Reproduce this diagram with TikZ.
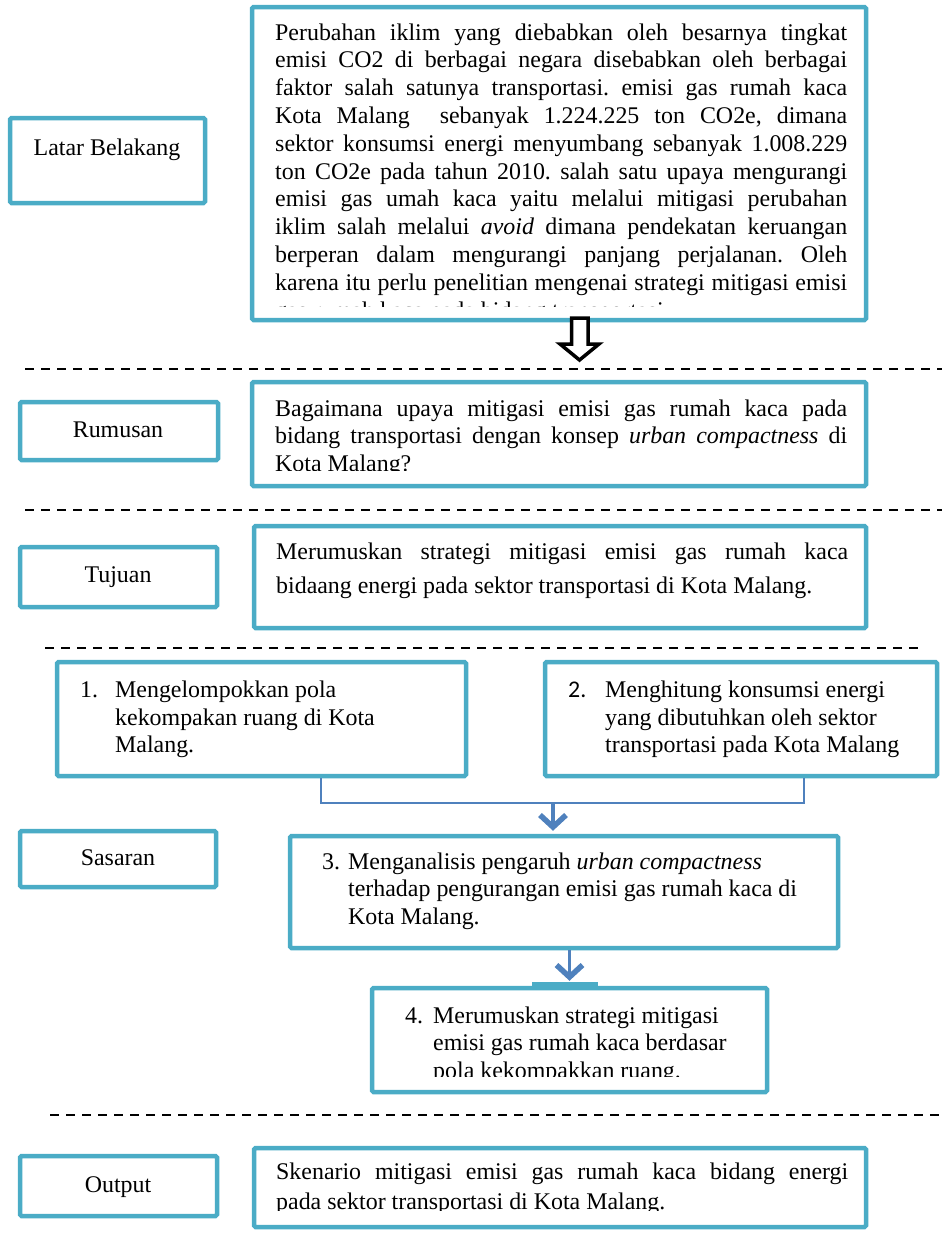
\documentclass[tikz,border=0pt]{standalone}
\usepackage{fontspec}
\setmainfont{Liberation Serif}
\newfontfamily\numfont{Carlito}
\usetikzlibrary{arrows.meta,fit}
\definecolor{boxblue}{HTML}{4BACC6}
\definecolor{linkblue}{HTML}{4F81BD}
\newcommand\jl[1]{\makebox[572bp][s]{\frenchspacing\spaceskip=0pt\xspaceskip=0pt\strut #1}}
\begin{document}
\frenchspacing
\begin{tikzpicture}[x=1bp,y=-1bp,
  box/.style={draw=boxblue, line width=4.5bp, rounded corners=1.5bp, fill=white, inner sep=0pt},
  lbl/.style={inner sep=0pt, font=\fontsize{24}{27.9}\selectfont},
  txt/.style={anchor=north west, inner sep=0pt, align=flush left, font=\fontsize{24}{27.9}\selectfont},
  dashline/.style={black, line width=2.2bp, dash pattern=on 9bp off 7bp},
  conn/.style={linkblue, line width=2bp},
  arr/.style={linkblue, line width=3.2bp, -{Straight Barb[length=12bp,width=26bp,line width=5.5bp]}}
]
\useasboundingbox (0,0) rectangle (942,1257);

% ---------- Latar Belakang ----------
\node[box, fit={(10,118) (205,203)}] (LB) {};
\node[lbl] (LBt) at (107,150) {Latar Belakang};
\node[box, fit={(252,7) (866,320)}] (T) {};
\begin{scope}
\clip (254,9) rectangle (864,306);
\node[txt, text width=572bp] (Tt) at (275,20.5) {%
\jl{Perubahan iklim yang diebabkan oleh besarnya tingkat}\\
\jl{emisi CO2 di berbagai negara disebabkan oleh berbagai}\\
\jl{faktor salah satunya transportasi. emisi gas rumah kaca}\\
\jl{Kota Malang \ sebanyak 1.224.225 ton CO2e, dimana}\\
\jl{sektor konsumsi energi menyumbang sebanyak 1.008.229}\\
\jl{ton CO2e pada tahun 2010. salah satu upaya mengurangi}\\
\jl{emisi gas umah kaca yaitu melalui mitigasi perubahan}\\
\jl{iklim salah melalui \textit{avoid} dimana pendekatan keruangan}\\
\jl{berperan dalam mengurangi panjang perjalanan. Oleh}\\
\jl{karena itu perlu penelitian mengenai strategi mitigasi emisi}\\
gas rumah kaca pada bidang transportasi.};
\end{scope}
\draw[black, line width=3.5bp, line join=miter, fill=white]
  (571.5,318) -- (571.5,344) -- (560,344) -- (579.5,360) -- (599,344) -- (588,344) -- (588,318) -- cycle;

\draw[dashline] (25,369) -- (942,369);

% ---------- Rumusan ----------
\node[box, fit={(20,402) (218,460)}] (RL) {};
\node[lbl] (RLt) at (118,430) {Rumusan};
\node[box, fit={(252,382) (866,486)}] (R) {};
\begin{scope}
\clip (254,384) rectangle (864,470);
\node[txt, text width=572bp] (Rt) at (275,396.5) {%
\jl{Bagaimana upaya mitigasi emisi gas rumah kaca pada}\\
\jl{bidang transportasi dengan konsep \textit{urban compactness} di}\\
Kota Malang?};
\end{scope}

\draw[dashline] (25,510) -- (942,510);

% ---------- Tujuan ----------
\node[box, fit={(20,547) (217,607)}] (JL) {};
\node[lbl] (JLt) at (118,577) {Tujuan};
\node[box, fit={(254,526) (866,628)}] (J) {};
\node[txt, text width=572bp, font=\fontsize{24}{35}\selectfont] (Jt) at (276,535) {%
\makebox[572bp][s]{\spaceskip=0pt\xspaceskip=0pt\rule{0pt}{23.8bp}Merumuskan strategi mitigasi emisi gas rumah kaca}\\
bidaang energi pada sektor transportasi di Kota Malang.};

\draw[dashline] (45,648) -- (925,648);

% ---------- Sasaran ----------
\node[box, fit={(57,662) (466,776)}] (B1) {};
\node[txt] (B1n) at (80,677.6) {\strut 1.};
\node[txt, text width=340bp] (B1t) at (115,677.6) {\strut Mengelompokkan pola\\kekompakan ruang di Kota\\Malang.};

\node[box, fit={(545,662) (937,776)}] (B2) {};
\node[txt] (B2n) at (568,677.6) {\strut\numfont 2.};
\node[txt, text width=330bp] (B2t) at (605,677.6) {\strut Menghitung konsumsi energi\\yang dibutuhkan oleh sektor\\transportasi pada Kota Malang};

\node[box, fit={(20,831) (216,887)}] (SL) {};
\node[lbl] (SLt) at (118,858) {Sasaran};

\node[box, fit={(290,836) (838,948)}] (B3) {};
\node[txt] (B3n) at (322,849.5) {\strut 3.};
\node[txt, text width=480bp] (B3t) at (348,849.5) {\strut Menganalisis pengaruh \textit{urban compactness}\\terhadap pengurangan emisi gas rumah kaca di\\Kota Malang.};

\node[box, fit={(372,988) (767,1092)}] (B4) {};
\draw[boxblue, line width=7bp] ([xshift=-37.5bp]B4.north) -- ([xshift=28.5bp]B4.north);
\begin{scope}
\clip (374,990) rectangle (765,1076);
\node[txt] (B4n) at (405,1003.5) {\strut 4.};
\node[txt, text width=320bp] (B4t) at (433,1003.5) {\strut Merumuskan strategi mitigasi\\emisi gas rumah kaca berdasar\\pola kekompakkan ruang.};
\end{scope}

\coordinate (j1) at (321,803);
\coordinate (j2) at (804,803);
\coordinate (jm) at (553,803);
\draw[conn] (B1.south -| j1) -- (j1) -- (j2) -- (B2.south -| j2);
\draw[arr, shorten >=3bp] (jm) -- (B3.north -| jm);
\draw[arr, shorten >=5bp] (B3.south -| B4.north) -- (B4.north);

\draw[dashline] (50,1115) -- (942,1115);

% ---------- Output ----------
\node[box, fit={(20,1156) (217,1216)}] (OL) {};
\node[lbl] (OLt) at (118,1187) {Output};
\node[box, fit={(254,1148) (866,1227)}] (O) {};
\begin{scope}
\clip (256,1150) rectangle (864,1210);
\node[txt, text width=572bp, font=\fontsize{24}{30}\selectfont] (Ot) at (276,1158) {%
\makebox[572bp][s]{\spaceskip=0pt\xspaceskip=0pt\rule{0pt}{21bp}Skenario mitigasi emisi gas rumah kaca bidang energi}\\
pada sektor transportasi di Kota Malang.};
\end{scope}
\end{tikzpicture}
\end{document}
